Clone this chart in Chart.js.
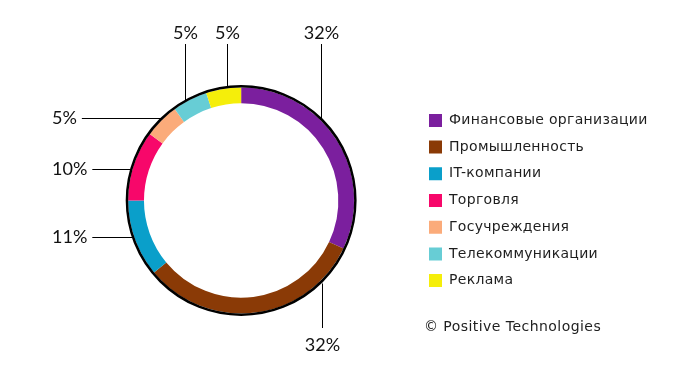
<!DOCTYPE html>
<html><head><meta charset="utf-8">
<script src="https://cdn.jsdelivr.net/npm/chart.js@4/dist/chart.umd.min.js"></script>
<style>
html,body{margin:0;padding:0;background:#fff;}
#wrap{position:relative;width:679px;height:374px;}
#credit{position:absolute;left:424px;top:318px;font:14px "DejaVu Sans";letter-spacing:0.45px;color:#1e1e1e;white-space:nowrap;}
</style></head><body>
<div id="wrap"><canvas id="c" width="679" height="374"></canvas><div id="credit">© Positive Technologies</div></div>
<script>
const categories = ['Финансовые организации','Промышленность','IT-компании','Торговля','Госучреждения','Телекоммуникации','Реклама'];
const shares = [32, 32, 11, 10, 5, 5, 5];
const colors = ['#7b1f9e','#8a3a06','#0a9fca','#f7076a','#fbab7a','#67cdd5','#f5ee0a'];
// leader-line layout (angle clockwise from top, and direction)
const labelAngles = [44, 135.5, 251.6, 285.8, 316, 330.6, 353];
const labelSides = ['up','down','left','left','left','up','up'];

const LEG_SPACING = '0.3px';
const LEG_SIZE = 14;
const mctx = document.createElement('canvas').getContext('2d');
mctx.font = LEG_SIZE + 'px "DejaVu Sans"';
mctx.letterSpacing = LEG_SPACING;
const W = Math.max(...categories.map(c => mctx.measureText(c).width));
const legPad = 12.7;
const rightPad = Math.max(0, 679 - (428 + 13 + LEG_SIZE / 2 + W) - 11);

const spacingPlugin = {
  id: 'spacing',
  beforeUpdate(chart) { chart.ctx.letterSpacing = LEG_SPACING; },
  beforeDraw(chart) { chart.ctx.letterSpacing = LEG_SPACING; }
};

const ringDecor = {
  id: 'ringDecor',
  afterDatasetsDraw(chart) {
    const meta = chart.getDatasetMeta(0);
    const a0 = meta.data[0];
    const {x: cx, y: cy, outerRadius} = a0.getProps(['x','y','outerRadius'], true);
    const ctx = chart.ctx;
    ctx.save();
    ctx.letterSpacing = '0px';
    ctx.beginPath();
    ctx.arc(cx, cy, outerRadius + 1.2, 0, Math.PI * 2);
    ctx.lineWidth = 2.5; ctx.strokeStyle = '#000'; ctx.stroke();
    ctx.font = '18px Lato'; ctx.fillStyle = '#111'; ctx.lineWidth = 1;
    const R = outerRadius + 2;
    shares.forEach((v, i) => {
      const a = labelAngles[i] * Math.PI / 180;
      const px = Math.round(cx + R * Math.sin(a)) + 0.5;
      const py = Math.round(cy - R * Math.cos(a)) + 0.5;
      const txt = v + '%';
      ctx.beginPath();
      if (labelSides[i] === 'up') {
        ctx.moveTo(px, py); ctx.lineTo(px, cy - 156.5); ctx.stroke();
        ctx.textAlign = 'center'; ctx.textBaseline = 'middle';
        ctx.fillText(txt, px, cy - 167.5);
      } else if (labelSides[i] === 'down') {
        ctx.moveTo(px, py); ctx.lineTo(px, cy + 127.5); ctx.stroke();
        ctx.textAlign = 'center'; ctx.textBaseline = 'middle';
        ctx.fillText(txt, px, cy + 144.5);
      } else {
        ctx.textAlign = 'left'; ctx.textBaseline = 'middle';
        const tx = 52;
        ctx.fillText(txt, tx, py);
        const ex = tx + ctx.measureText(txt).width + 5;
        ctx.moveTo(ex, py); ctx.lineTo(px, py); ctx.stroke();
      }
    });
    ctx.restore();
  }
};

new Chart(document.getElementById('c'), {
  type: 'doughnut',
  data: {
    labels: categories,
    datasets: [{ data: shares, backgroundColor: colors, borderWidth: 0, radius: 113, cutout: '86%' }]
  },
  options: {
    responsive: false,
    animation: false,
    devicePixelRatio: 1,
    layout: { padding: { top: 27, bottom: 0, left: 66, right: rightPad } },
    plugins: {
      tooltip: { enabled: false },
      legend: {
        position: 'right',
        labels: { boxWidth: 13, boxHeight: 13, padding: legPad, color: '#1e1e1e', font: { family: 'DejaVu Sans', size: LEG_SIZE } }
      }
    }
  },
  plugins: [spacingPlugin, ringDecor]
});
</script>
</body></html>
